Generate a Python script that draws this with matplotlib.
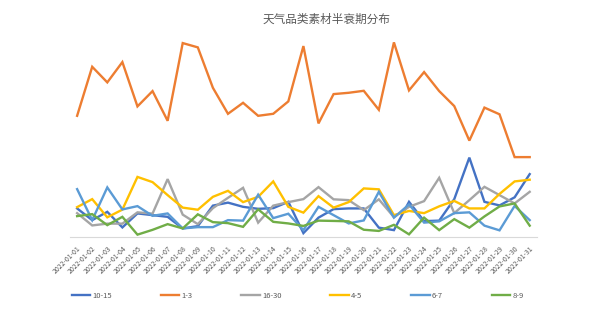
import matplotlib
matplotlib.use("Agg")
import matplotlib.pyplot as plt
import numpy as np

plt.rcParams['font.family'] = ['Noto Sans CJK SC', 'DejaVu Sans']

# dates on the category axis
dates = ["2022-01-%02d" % d for d in range(1, 32)]

# series (arbitrary units)
s_10_15 = [28.7, 17, 25.3, 9.7, 23.7, 22, 20.3, 8.7, 11, 31.5, 34.5, 30.3, 28.3, 29, 35.3, 4,
           19.5, 28, 28.7, 28.7, 9.5, 7, 35.3, 16, 16.5, 38, 79.5, 35.3, 31.7, 39.8, 63]
s_1_3 = [121.3, 170.3, 154.7, 175, 130.7, 146, 116.3, 194, 189.7, 149.3, 123.3, 134.3, 121.3, 123.3, 135.7, 191,
         113.7, 143, 144.3, 146.3, 127.3, 194.7, 146.7, 165, 146, 131, 96.5, 129.5, 122.8, 80, 80]
s_16_30 = [24, 11.7, 13.5, 13.5, 24.8, 23.5, 58, 22.5, 13, 29, 39.3, 49.3, 14.5, 31.5, 35, 38,
           50, 37.8, 37, 27, 37.8, 20, 30.3, 36, 59.3, 24, 37, 50.3, 42, 33.7, 45.3]
s_4_5 = [30, 38, 19.8, 27.5, 60.2, 55, 42, 29.5, 27.4, 40.3, 46.3, 35, 40.3, 55.7, 30.3, 24.5,
         41, 29.5, 35, 48.7, 47.8, 22, 26.2, 24, 30.8, 36.2, 28.7, 28.7, 43.2, 55.7, 57.4]
s_6_7 = [48, 17, 49.7, 27.7, 31, 21.3, 23.7, 8.7, 10, 10, 17, 16.5, 42.4, 19, 23.4, 7,
         30.3, 22, 13.7, 16.7, 45.3, 19.5, 32.7, 14.5, 15.8, 24, 24.8, 11.5, 6.8, 31.2, 17]
s_8_9 = [21, 23, 12, 20.3, 2.5, 7.3, 13, 8.7, 22.8, 15, 14, 10.3, 27.8, 15.3, 13.7, 11.2,
         16.5, 16.2, 15.8, 7.4, 6.2, 12.3, 2.8, 19.5, 7, 18, 9.5, 20.7, 30.7, 33.7, 11.5]

labels = ["10-15", "1-3", "16-30", "4-5", "6-7", "8-9"]
series = [s_10_15, s_1_3, s_16_30, s_4_5, s_6_7, s_8_9]
colors = ["#4472C4", "#ED7D31", "#A5A5A5", "#FFC000", "#5B9BD5", "#70AD47"]

fig = plt.figure(figsize=(6.05, 3.34), dpi=100)
ax = fig.add_axes([0.115, 0.29, 0.773, 0.599])

x = np.arange(len(dates))
for vals, lab, col in zip(series, labels, colors):
    ax.plot(x, vals, color=col, lw=1.7, label=lab, solid_joinstyle='miter')

ax.set_xlim(-0.5, len(dates) - 0.5)
ax.set_ylim(0, 200)
ax.set_yticks([])
for side in ['top', 'right', 'left']:
    ax.spines[side].set_visible(False)
ax.spines['bottom'].set_color('#D9D9D9')
ax.spines['bottom'].set_linewidth(0.8)

ax.set_xticks(x)
ax.set_xticklabels(dates, rotation=45, ha='right', rotation_mode='anchor',
                   fontsize=5, color='#595959')
ax.tick_params(axis='x', length=0, pad=5)

fig.text(0.539, 0.942, "天气品类素材半衰期分布", ha='center', va='center',
         fontsize=8.4, color='#595959')

leg = fig.legend(loc='center', bbox_to_anchor=(0.492, 0.115), ncol=6, frameon=False,
                 fontsize=5.5, handlelength=2.4, handletextpad=0.3, columnspacing=6.4)
for t in leg.get_texts():
    t.set_color('#595959')

fig.savefig("out.png", dpi=100)
